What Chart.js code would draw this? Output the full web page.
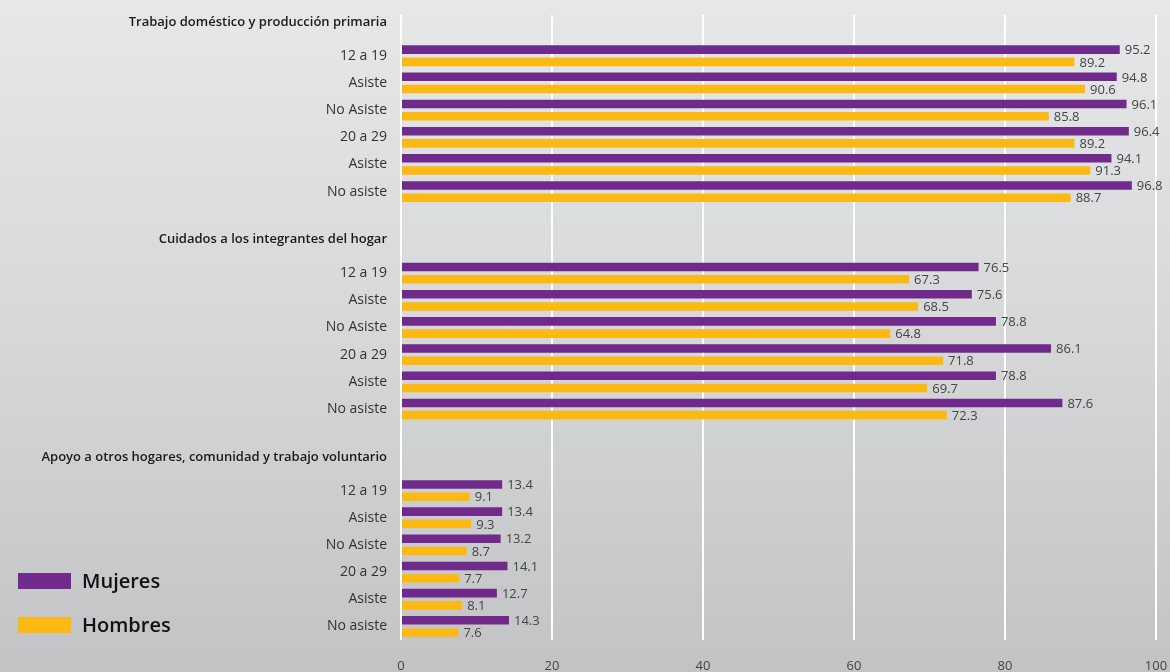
<!DOCTYPE html>
<html>
<head>
<meta charset="utf-8">
<script src="https://cdn.jsdelivr.net/npm/chart.js@4.4.1/dist/chart.umd.min.js"></script>
<style>
  html, body { margin: 0; padding: 0; }
  body { width: 1170px; height: 672px; background: linear-gradient(to bottom, #e6e7e9 0%, #d6d7d9 50%, #c2c3c5 100%); overflow: hidden; }
  #wrap { position: relative; width: 1170px; height: 672px; }
</style>
</head>
<body>
<div id="wrap"><canvas id="c" width="1170" height="672"></canvas></div>
<script>
// ---- Data ----
const sectionTitles = [
  'Trabajo doméstico y producción primaria',
  'Cuidados a los integrantes del hogar',
  'Apoyo a otros hogares, comunidad y trabajo voluntario'
];
const rowLabels = ['12 a 19', 'Asiste', 'No Asiste', '20 a 29', 'Asiste', 'No asiste'];
const seriesNames = ['Mujeres', 'Hombres'];
const seriesColors = ['#702a8c', '#fdb913'];

const mujeresTrabajo  = [95.2, 94.8, 96.1, 96.4, 94.1, 96.8];
const hombresTrabajo  = [89.2, 90.6, 85.8, 89.2, 91.3, 88.7];
const mujeresCuidados = [76.5, 75.6, 78.8, 86.1, 78.8, 87.6];
const hombresCuidados = [67.3, 68.5, 64.8, 71.8, 69.7, 72.3];
const mujeresApoyo    = [13.4, 13.4, 13.2, 14.1, 12.7, 14.3];
const hombresApoyo    = [9.1, 9.3, 8.7, 7.7, 8.1, 7.6];

const xTicks = [0, 20, 40, 60, 80, 100];

// ---- Build category table (header slot + rows + spacer) ----
const mujeresBySection = [mujeresTrabajo, mujeresCuidados, mujeresApoyo];
const hombresBySection = [hombresTrabajo, hombresCuidados, hombresApoyo];
const labels = [], mujeres = [], hombres = [];
const headerIdx = new Set();
sectionTitles.forEach((t, s) => {
  if (s > 0) { labels.push(''); mujeres.push(null); hombres.push(null); }
  headerIdx.add(labels.length);
  labels.push([t, '']); mujeres.push(null); hombres.push(null);
  rowLabels.forEach((r, i) => {
    labels.push(r);
    mujeres.push(mujeresBySection[s][i]);
    hombres.push(hombresBySection[s][i]);
  });
});

const FONT = "'Open Sans', 'Noto Sans', sans-serif";

const valueLabels = {
  id: 'valueLabels',
  afterDatasetsDraw(chart) {
    const ctx = chart.ctx;
    ctx.save();
    ctx.font = '13px ' + FONT;
    ctx.fillStyle = '#444444';
    ctx.textAlign = 'left';
    ctx.textBaseline = 'middle';
    chart.data.datasets.forEach((ds, di) => {
      const meta = chart.getDatasetMeta(di);
      meta.data.forEach((bar, i) => {
        const v = ds.data[i];
        if (v === null || v === undefined) return;
        ctx.fillText(v.toFixed(1), bar.x + 5, bar.y + 1);
      });
    });
    ctx.restore();
  }
};

const customLegend = {
  id: 'customLegend',
  afterDraw(chart) {
    const ctx = chart.ctx;
    ctx.save();
    ctx.textAlign = 'left';
    ctx.textBaseline = 'middle';
    ctx.font = '600 20px ' + FONT;
    chart.data.datasets.forEach((ds, i) => {
      const y = 581 + i * 44;
      ctx.fillStyle = ds.backgroundColor;
      ctx.fillRect(18, y - 8, 53, 16);
      ctx.fillStyle = '#111111';
      ctx.fillText(ds.label, 82, y + 1);
    });
    ctx.restore();
  }
};

new Chart(document.getElementById('c'), {
  type: 'bar',
  data: {
    labels: labels,
    datasets: [
      { label: seriesNames[0], data: mujeres, backgroundColor: seriesColors[0], categoryPercentage: 0.9, barPercentage: 0.7 },
      { label: seriesNames[1], data: hombres, backgroundColor: seriesColors[1], categoryPercentage: 0.9, barPercentage: 0.7 }
    ]
  },
  options: {
    indexAxis: 'y',
    responsive: false,
    animation: false,
    layout: { padding: { top: 15, right: 14, bottom: 0, left: 0 } },
    plugins: { legend: { display: false }, tooltip: { enabled: false } },
    scales: {
      x: {
        min: 0, max: 100,
        afterBuildTicks(scale) { scale.ticks = xTicks.map(v => ({ value: v })); },
        afterFit(scale) { scale.height = 32; scale.paddingLeft = 0; scale.paddingRight = 0; },
        grid: { color: '#ffffff', lineWidth: 2, drawTicks: false },
        border: { display: false },
        ticks: { padding: 18, color: '#444444', font: { family: FONT, size: 13 } }
      },
      y: {
        afterFit(scale) { scale.width = 401; scale.paddingTop = 0; scale.paddingBottom = 0; },
        grid: { display: false, drawTicks: false },
        border: { display: false },
        ticks: {
          autoSkip: false,
          padding: 14,
          color: (c) => headerIdx.has(c.index) ? '#1a1a1a' : '#333333',
          font: (c) => headerIdx.has(c.index)
            ? { family: FONT, size: 13, weight: '600', lineHeight: 1.0 }
            : { family: FONT, size: 14, weight: 'normal' }
        }
      }
    }
  },
  plugins: [valueLabels, customLegend]
});
</script>
</body>
</html>
